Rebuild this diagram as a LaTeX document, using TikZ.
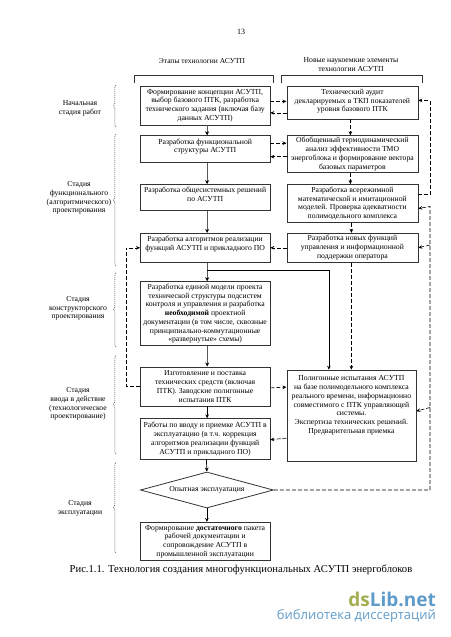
\documentclass[tikz,border=0pt]{standalone}
\usepackage{fontspec}
\setmainfont{Liberation Serif}
\newfontfamily\markfont{Open Sans}
\usetikzlibrary{positioning,arrows.meta,shapes.geometric}
\usetikzlibrary{decorations.pathreplacing}
\definecolor{markgreen}{HTML}{A3AE4F}
\definecolor{markblue}{HTML}{5F9BC9}
\tikzset{
  box/.style={draw=black!80, line width=0.8pt, inner sep=0pt, align=center,
    font=\fontsize{7.7}{8.75}\selectfont},
  lbox/.style={box, minimum width=129.5pt},
  rbox/.style={box, minimum width=131pt},
  flow/.style={draw=black!65, line width=1.1pt, -{Stealth[length=4pt,width=4pt,black]}},
  thinflow/.style={draw=black, line width=0.7pt, -{Stealth[length=4pt,width=3.6pt]}},
  dashflow/.style={draw=black, line width=0.6pt, dash pattern=on 4pt off 2pt, -{Stealth[length=4pt,width=3.6pt]}},
  stage/.style={align=center, inner sep=0pt, font=\fontsize{7.7}{8.75}\selectfont},
  stagebrace/.style={draw=black!80, line width=0.5pt, dash pattern=on 1pt off 1pt,
    decorate, decoration={brace,amplitude=2.5pt}},
  bracket/.style={draw=black!80, line width=0.6pt}
}
\begin{document}
\begin{tikzpicture}[x=1pt, y=-1pt]
    \useasboundingbox (0,0) rectangle (450,637);

    \node[stage, font=\fontsize{8}{9}\selectfont] (pagenum) at (241,32) {13};
    \node[stage, font=\fontsize{7.5}{8.75}\selectfont] (headl) at (202,61) {Этапы технологии АСУТП};
    \node[stage] (headr) at (351,64.5) {Новые наукоемкие элементы\\технологии АСУТП};

    % left column
    \node[lbox, minimum height=39pt, anchor=north west] (concept) at (140,85.5)
      {Формирование концепции АСУТП,\\выбор базового ПТК, разработка\\технического задания (включая базу\\данных АСУТП)};
    \node[lbox, minimum height=27pt, below=10pt of concept] (func)
      {Разработка функциональной\\структуры АСУТП\\[-2pt]~};
    \node[lbox, minimum height=26pt, below=21pt of func] (obsh)
      {Разработка общесистемных решений\\по АСУТП\\[-2.7pt]~};
    \node[lbox, minimum height=29pt, below=22pt of obsh] (algo)
      {Разработка алгоритмов реализации\\функций АСУТП и прикладного ПО\\~};
    \node[lbox, minimum height=64pt, below=18.5pt of algo] (model)
      {Разработка единой модели проекта\\технической структуры подсистем\\контроля и управления и разработка\\\textbf{необходимой} проектной\\документации (в том числе, сквозные\\принципиально-коммутационные\\«развернутые» схемы)};
    \node[lbox, minimum height=39pt, below=20.5pt of model] (izgot)
      {Изготовление и поставка\\технических средств (включая\\ПТК). Заводские полигонные\\испытания ПТК};
    \node[lbox, minimum height=40.5pt, below=12pt of izgot] (works)
      {Работы по вводу и приемке АСУТП в\\эксплуатацию (в т.ч. коррекция\\алгоритмов реализации функций\\АСУТП и прикладного ПО)};
    \node[diamond, draw=black!80, line width=0.8pt, inner sep=0pt, minimum width=133pt, minimum height=36pt,
      aspect=3.7, below=12pt of works, xshift=1.75pt, font=\fontsize{7.7}{8.75}\selectfont] (trial) {Опытная эксплуатация};
    \node[lbox, minimum height=38.5pt, below=13.5pt of trial, xshift=-1.75pt] (form)
      {Формирование \textbf{достаточного} пакета\\рабочей документации и\\сопровождение АСУТП в\\промышленной эксплуатации};

    % right column
    \node[rbox, minimum height=33pt, anchor=north west] (audit) at (286.5,85.5)
      {Технический аудит\\декларируемых в ТКП показателей\\уровня базового ПТК\\[-4.7pt]~};
    \node[rbox, minimum height=36.5pt, below=16pt of audit] (obob)
      {Обобщенный термодинамический\\анализ эффективности ТМО\\энергоблока и формирование вектора\\базовых параметров};
    \node[rbox, minimum height=38pt, below=11.5pt of obob] (vsereg)
      {Разработка всережимной\\математической и имитационной\\моделей. Проверка адекватности\\полимодельного комплекса};
    \node[rbox, minimum height=29pt, below=10pt of vsereg] (new)
      {Разработка новых  функций\\управления и информационной\\поддержки оператора};
    \node[box, minimum width=129pt, minimum height=91.5pt, below=107pt of new, xshift=-1pt] (poly)
      {Полигонные испытания АСУТП\\на базе полимодельного комплекса\\реального времени, информационно\\совместимого с ПТК управляющей\\системы.\\Экспертиза технических решений.\\Предварительная приемка\\~\\[5pt]~};

    % headers
    \draw[bracket] (134,83) -- (134,75) -- (273.5,75) -- (273.5,83);
    \draw[bracket] (281.5,83) -- (281.5,75) -- (422,75) -- (422,83);

    % stages
    \node[stage] (st1) at (80,108.5) {Начальная\\стадия работ};
    \node[stage] (st2) at (79,198) {Стадия\\функционального\\(алгоритмического)\\проектирования};
    \node[stage] (st3) at (78,308.5) {Стадия\\конструкторского\\проектирования};
    \node[stage] (st4) at (78,404) {Стадия\\ввода в действие\\(технологическое\\проектирование)};
    \node[stage] (st5) at (80,508.5) {Стадия\\эксплуатации};

    \draw[stagebrace] (116,127) -- (116,85);
    \draw[stagebrace] (116,266) -- (116,134);
    \draw[stagebrace] (116,347) -- (116,272);
    \draw[stagebrace] (116,454) -- (116,355);
    \draw[stagebrace] (116,553) -- (116,462);

    % main flow
    \draw[flow] ([xshift=2pt]concept.south) -- ([xshift=2pt]func.north);
    \draw[flow] ([xshift=2pt]func.south) -- ([xshift=2pt]obsh.north);
    \draw[flow] ([xshift=2pt]obsh.south) -- ([xshift=2pt]algo.north);
    \draw[flow] ([xshift=2pt]algo.south) -- ([xshift=2pt]model.north);
    \draw[flow] ([xshift=2pt]model.south) -- ([xshift=2pt]izgot.north);
    \draw[thinflow] ([xshift=2pt]izgot.south) -- ([xshift=2pt]works.north);
    \draw[thinflow] ([xshift=1.25pt]works.south) -- (trial.north);
    \draw[thinflow] (trial.south) -- ([xshift=1.75pt]form.north);

    \coordinate[below=7.5pt of algo.south, xshift=2pt] (split);
    \draw[thinflow] (split) -| ([xshift=-22.5pt]poly.north);

    % dashed links between columns
    \draw[dashflow] ([yshift=4pt]concept.east) -- ([yshift=1pt]audit.west);
    \draw[dashflow] ([yshift=-10.5pt]audit.west) -- ([yshift=-7.5pt]concept.east);
    \draw[dashflow] ([yshift=6pt]func.east) -- ([yshift=10.75pt]obob.west);
    \draw[dashflow] ([yshift=-2.75pt]obob.west) -- ([yshift=-7.5pt]func.east);
    \draw[dashflow] ([xshift=-2pt]audit.south) -- ([xshift=-2pt]obob.north);
    \draw[dashflow] ([xshift=-2pt]obob.south) -- ([xshift=-2pt]vsereg.north);
    \draw[dashflow] ([xshift=-1pt]vsereg.south) -- ([xshift=-1pt]new.north);
    \draw[dashflow] (new.west) -- (algo.east);
    \draw[dashflow] ([xshift=-1pt]new.south) -- (poly.north);
    \draw[dashflow] (izgot.west) -- ++(-14,0) |- (algo.west);
    \draw[dashflow] ([yshift=-1.5pt]izgot.east) -- ([yshift=28.75pt]poly.west);
    \draw[dashflow] ([yshift=-22.25pt]poly.west) -- ([yshift=-0.75pt]works.east);

    % right rail
    \coordinate (railtop) at (430,206.5);
    \coordinate (railnew) at (430,245);
    \coordinate (railpoly) at (430,407.5);
    \draw[dashflow] ([yshift=9pt]vsereg.east) -- ++(12,0) |- ([yshift=2pt]audit.east);
    \draw[dashflow] (trial.east) -| (railtop) -- ([yshift=-5pt]vsereg.east);
    \draw[dashflow] (railnew) -- (new.east);
    \draw[dashflow] (railpoly) -- ([yshift=4.75pt]poly.east);

    % caption
    \node[stage, font=\fontsize{10.6}{12}\selectfont] (caption) at (241,570)
      {Рис.1.1. Технология создания многофункциональных АСУТП энергоблоков};

    % site mark
    \node[inner sep=0pt, anchor=east, font=\markfont\bfseries\fontsize{19}{20}\selectfont] (marktop) at (436,599)
      {\textcolor{markgreen}{ds}\textcolor{markblue}{Lib.net}};
    \node[inner sep=0pt, anchor=east, text=markblue, font=\markfont\fontsize{13}{14}\selectfont] (markbot) at (436,616.5)
      {библиотека диссертаций};
\end{tikzpicture}
\end{document}
